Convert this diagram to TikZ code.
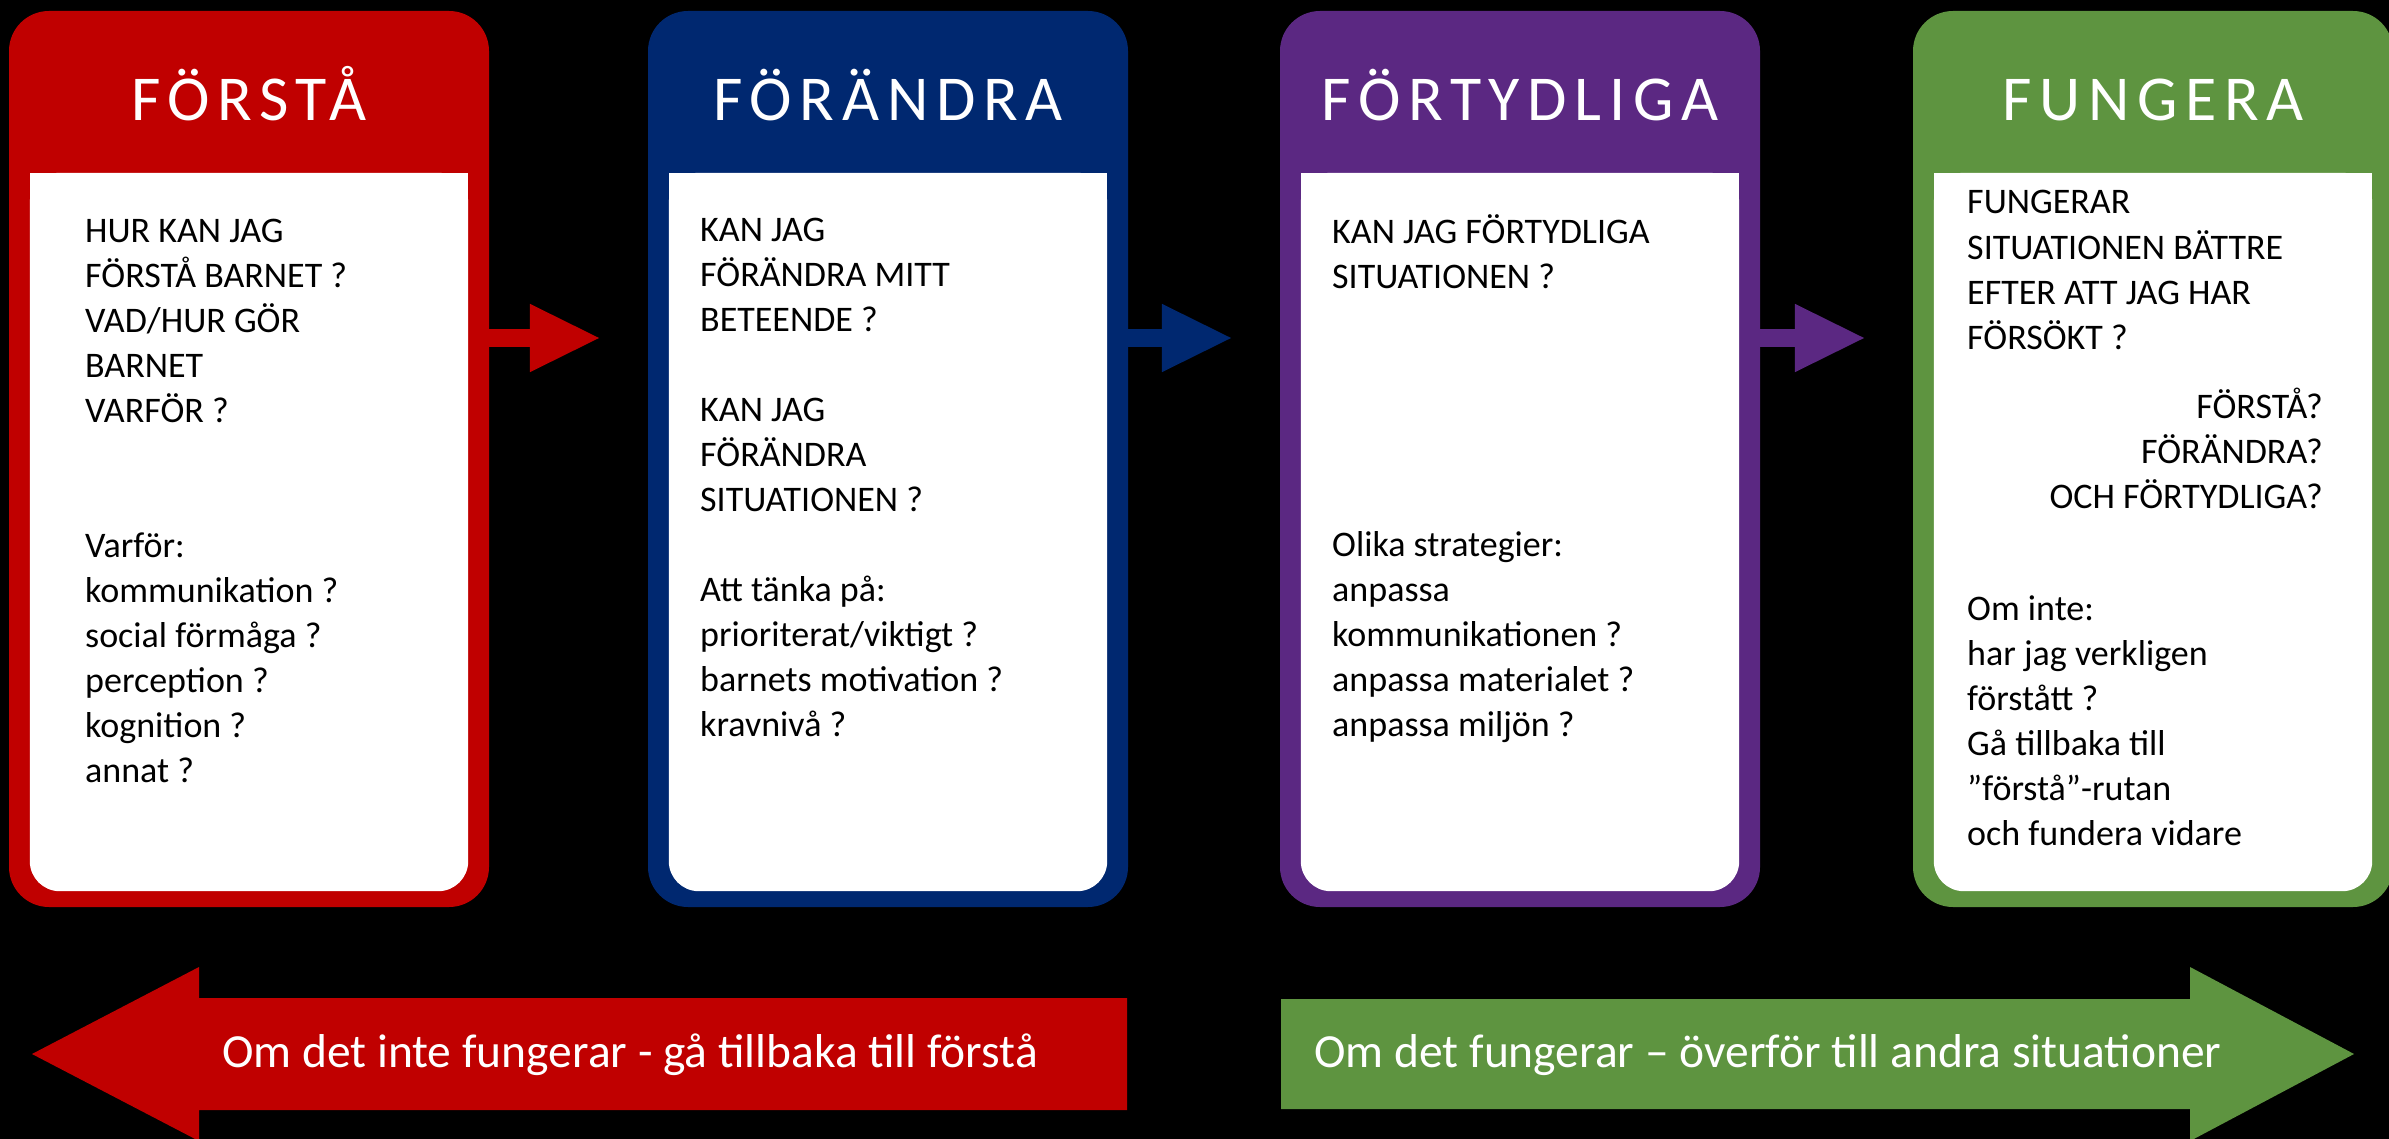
\documentclass[tikz,border=0pt]{standalone}
\usepackage{fontspec}
\setmainfont{Carlito}
\newfontfamily\titlefont[LetterSpace=12]{Carlito}
\definecolor{forstared}{RGB}{192,0,0}
\definecolor{forandrablue}{RGB}{0,40,112}
\definecolor{fortydligapurple}{RGB}{91,40,130}
\definecolor{fungeragreen}{RGB}{94,148,64}
\usetikzlibrary{arrows.meta,positioning,calc}

\begin{document}
\begin{tikzpicture}[x=1pt,y=-1pt,
    stagebox/.style={minimum width=480pt, minimum height=896pt, rounded corners=40pt, inner sep=0pt},
    stagetitle/.style={anchor=base, inner sep=0pt, text=white, font=\titlefont\fontsize{64}{70}\selectfont},
    bodytext/.style={anchor=base west, align=left, inner sep=0pt, font=\fontsize{36}{45}\selectfont},
    steparrow/.style={line width=17pt, -{Triangle[length=71pt,width=63pt]}, shorten >=47pt},
    bartext/.style={anchor=base, inner sep=0pt, text=white, font=\fontsize{47.5}{50}\selectfont}]
    \useasboundingbox (0,0) rectangle (2389,1139);
    \fill[black] (0,0) rectangle (2389,1139);
    % Four stage boxes
    \foreach \xc/\name/\col/\title in {249/forsta/forstared/FÖRSTÅ, 888/forandra/forandrablue/FÖRÄNDRA, 1520/fortydliga/fortydligapurple/FÖRTYDLIGA, 2153/fungera/fungeragreen/FUNGERA} {
        \node[stagebox, fill=\col] (\name) at (\xc,459) {};
        \fill[white, rounded corners=30pt] ($(\name.north west)+(21,162)$) rectangle ($(\name.south east)+(-21,-16)$);
        \fill[white] ($(\name.north west)+(21,162)$) rectangle ($(\name.north east)+(-21,260)$);
        \node[stagetitle] (\name title) at (\xc,121) {\title};
    }
    \foreach \a/\b/\col in {forsta/forandra/forstared, forandra/fortydliga/forandrablue, fortydliga/fungera/fortydligapurple}
        \draw[steparrow, color=\col] ([yshift=121pt]\a.east) -- ([yshift=121pt]\b.west);
    % Box texts (placed by the baseline of their last line)
    \node[bodytext] (forstatext) at (85,782) {HUR KAN JAG\\FÖRSTÅ BARNET ?\\VAD/HUR GÖR\\BARNET\\VARFÖR ?\\[90pt]Varför:\\kommunikation ?\\social förmåga ?\\perception ?\\kognition ?\\annat ?};
    \node[bodytext] (forandratext) at (700,736) {KAN JAG\\FÖRÄNDRA MITT\\BETEENDE ?\\[45pt]KAN JAG\\FÖRÄNDRA\\SITUATIONEN ?\\[45pt]Att tänka på:\\prioriterat/viktigt ?\\barnets motivation ?\\kravnivå ?};
    \node[bodytext] (fortydligatext) at (1332,736) {KAN JAG FÖRTYDLIGA\\SITUATIONEN ?\\[223pt]Olika strategier:\\anpassa\\kommunikationen ?\\anpassa materialet ?\\anpassa miljön ?};
    \node[bodytext] (fungeratext) at (1967,349) {FUNGERAR\\SITUATIONEN BÄTTRE\\EFTER ATT JAG HAR\\FÖRSÖKT ?};
    \node[bodytext, anchor=base east, align=right] (fungeracheck) at (2323,508) {FÖRSTÅ?\\FÖRÄNDRA?\\OCH FÖRTYDLIGA?};
    \node[bodytext] (fungeraback) at (1967,845) {Om inte:\\har jag verkligen\\förstått ?\\Gå tillbaka till\\”förstå”-rutan\\och fundera vidare};
    % Bottom arrows
    \fill[forstared] (32,1054) -- (199,967) -- (199,998) -- (1127,998) -- (1127,1110) -- (199,1110) -- (199,1141) -- cycle;
    \node[bartext] (backtext) at (630,1067) {Om det inte fungerar - gå tillbaka till förstå};
    \fill[fungeragreen] (1281,999) -- (2190,999) -- (2190,967) -- (2354,1054) -- (2190,1141) -- (2190,1109) -- (1281,1109) -- cycle;
    \node[bartext] (fwdtext) at (1768,1067) {Om det fungerar – överför till andra situationer};
\end{tikzpicture}
\end{document}
